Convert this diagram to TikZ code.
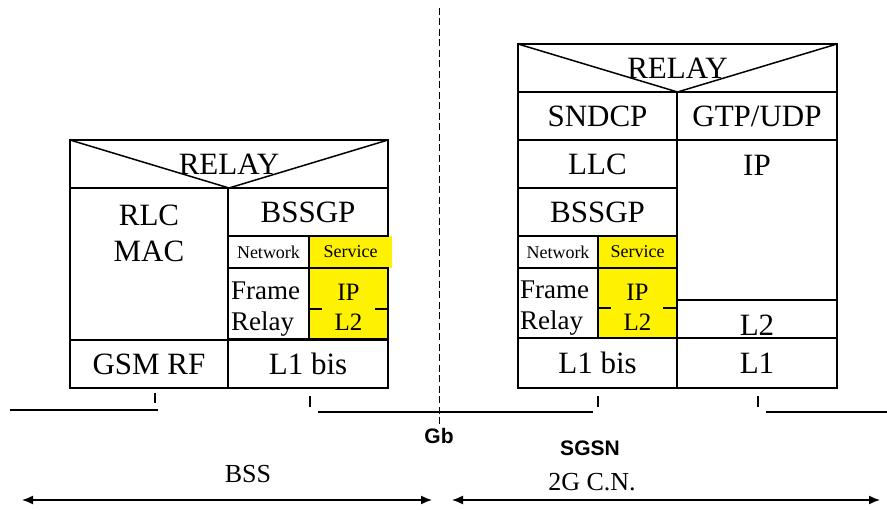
\documentclass[tikz,border=0pt]{standalone}
\usepackage{fontspec}
\setmainfont{Liberation Serif}
\setsansfont{Liberation Sans}
\usepackage{tikz}
\usetikzlibrary{positioning,arrows.meta}
\newcommand{\layerfont}{\fontsize{31}{36}\selectfont}
\newcommand{\midfont}{\fontsize{27}{31}\selectfont}
\newcommand{\ipfont}{\fontsize{25}{30}\selectfont}
\newcommand{\tinyfont}{\fontsize{18}{20}\selectfont}
\newcommand{\tagfont}{\fontsize{21}{24}\selectfont\sffamily\bfseries}
\newcommand{\areafont}{\fontsize{26}{30}\selectfont}
\tikzstyle{layer} = [rectangle, draw, line width=1.5pt, inner sep=0pt, outer sep=0pt, anchor=north west, font=\layerfont]
\tikzstyle{svc} = [layer, fill=yellow]
\tikzstyle{words} = [inner sep=0pt, align=left, font=\midfont]
\tikzstyle{rule} = [draw, line width=1.5pt]
\tikzstyle{span} = [draw, line width=1.5pt, {Latex[length=11pt,width=9pt]}-{Latex[length=11pt,width=9pt]}]

\begin{document}
\begin{tikzpicture}[x=1pt, y=-1pt]
\useasboundingbox (0,0) rectangle (887,510);
% BSS stack
\node [svc, draw=none, minimum width=83pt, minimum height=32pt, font=\tinyfont] (servA) at (309,236) {Service};
\node [layer, minimum width=318pt, minimum height=48pt] (relayA) at (70,140) {RELAY};
\node [layer, minimum width=158pt, minimum height=152pt] (rlcmac) at (70,188) {};
\node [layer, minimum width=160pt, minimum height=48pt] (bssgpA) at (228,188) {BSSGP};
\node [layer, minimum width=81pt, minimum height=32pt, font=\tinyfont] (netA) at (228,236) {Network};
\node [layer, minimum width=81pt, minimum height=71pt] (frA) at (228,268) {};
\node [svc, minimum width=79pt, minimum height=71pt] (ipA) at (309,268) {};
\node [layer, minimum width=158pt, minimum height=48pt] (gsmrf) at (70,340) {GSM RF};
\node [layer, minimum width=160pt, minimum height=48pt] (l1bisA) at (228,340) {L1 bis};
\node [below=17pt of rlcmac.north, font=\layerfont, align=center, inner sep=0pt] (rlctext) {RLC\\MAC};
\node [words, right=3pt of frA.west, yshift=-6pt] (frtextA) {Frame\\Relay};
\node [words, align=center, font=\ipfont, yshift=-4pt] (iptextA) at (ipA.center) {IP\\L2};
\path [rule] (relayA.north west) -- (relayA.south) -- (relayA.north east);
\path [rule, dash pattern=on 13pt off 53pt] (309,309) -- (388,309);
% SGSN stack
\node [layer, minimum width=319pt, minimum height=48pt] (relayB) at (518,44) {RELAY};
\node [layer, minimum width=159pt, minimum height=48pt] (sndcp) at (518,92) {SNDCP};
\node [layer, minimum width=160pt, minimum height=48pt] (gtp) at (677,92) {GTP/UDP};
\node [layer, minimum width=159pt, minimum height=48pt] (llc) at (518,140) {LLC};
\node [layer, minimum width=160pt, minimum height=160pt] (ipB) at (677,140) {};
\node [layer, minimum width=159pt, minimum height=48pt] (bssgpB) at (518,188) {BSSGP};
\node [layer, minimum width=80pt, minimum height=32pt, font=\tinyfont] (netB) at (518,236) {Network};
\node [svc, minimum width=79pt, minimum height=32pt, font=\tinyfont] (servB) at (598,236) {Service};
\node [layer, minimum width=80pt, minimum height=70pt] (frB) at (518,268) {};
\node [svc, minimum width=79pt, minimum height=70pt] (ipl2B) at (598,268) {};
\node [layer, minimum width=160pt, minimum height=38pt] (l2B) at (677,300) {};
\node [layer, minimum width=159pt, minimum height=50pt] (l1bisB) at (518,338) {L1 bis};
\node [layer, minimum width=160pt, minimum height=50pt] (l1B) at (677,338) {L1};
\node [below=15pt of ipB.north, font=\layerfont, inner sep=0pt] (iptext) {IP};
\node [above=2pt of l2B.south, font=\layerfont, inner sep=0pt] (l2text) {L2};
\node [words, right=2pt of frB.west, yshift=-5pt] (frtextB) {Frame\\Relay};
\node [words, align=center, font=\ipfont, yshift=-4pt] (iptextB) at (ipl2B.center) {IP\\L2};
\path [rule] (relayB.north west) -- (relayB.south) -- (relayB.north east);
\path [rule, dash pattern=on 13pt off 52pt] (598,308) -- (677,308);
% interface lines
\path [rule] (10,410) -- (158,410);
\path [rule] (318,412) -- (593,412);
\path [rule] (766,412) -- (887,412);
\path [rule] (155,393) -- (155,403);
\path [rule] (310,396) -- (310,407);
\path [rule] (598,396) -- (598,407);
\path [rule] (758,396) -- (758,407);
\coordinate (gbtop) at (439,8);
\coordinate (gbend) at (439,425);
\draw [line width=1pt, dash pattern=on 7pt off 3.5pt] (gbtop) -- (gbend);
\node [below=3pt of gbend, font=\tagfont, inner sep=0pt] (gb) {Gb};
\node [font=\tagfont, inner sep=0pt] (sgsn) at (590,448) {SGSN};
% domains
\coordinate (bssL) at (22,500);
\coordinate (bssR) at (432,500);
\coordinate (cnL) at (452,500);
\coordinate (cnR) at (880,500);
\path [span] (bssL) -- (bssR);
\path [span] (cnL) -- (cnR);
\node [font=\areafont, inner sep=0pt] (bss) at (248,474) {BSS};
\node [font=\areafont, inner sep=0pt] (cn) at (592,482) {2G C.N.};
\end{tikzpicture}
\end{document}
